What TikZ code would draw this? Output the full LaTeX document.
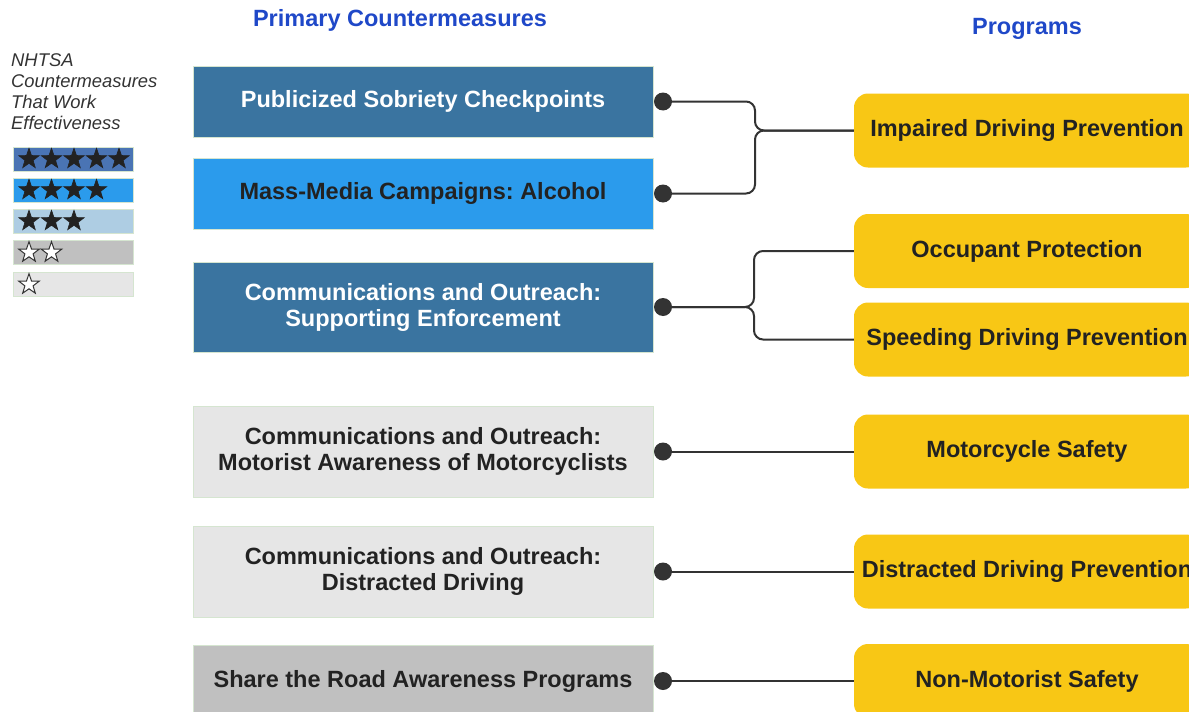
\documentclass[tikz,border=0pt]{standalone}
\usepackage{fontspec}
\setmainfont{Liberation Sans}
\frenchspacing
\usetikzlibrary{positioning,shapes.geometric}
\definecolor{steel}{HTML}{3A74A0}
\definecolor{skyblue}{HTML}{2B9BEC}
\definecolor{paleblue}{HTML}{AECDE3}
\definecolor{navyblue}{HTML}{4A74B4}
\definecolor{midgray}{HTML}{C0C0C0}
\definecolor{lightgray}{HTML}{E6E6E6}
\definecolor{gold}{HTML}{F8C715}
\definecolor{titleblue}{HTML}{1F48C8}
\definecolor{ink}{HTML}{222222}
\definecolor{wirecol}{HTML}{333333}
\definecolor{boxedge}{HTML}{D5E5D0}
\tikzset{
  measure/.style={draw=boxedge, line width=1pt, minimum width=460pt, inner sep=0pt,
    align=center, text=ink, font=\bfseries\fontsize{23.5}{26}\selectfont},
  program/.style={fill=gold, rounded corners=14pt, minimum width=346pt, minimum height=74pt,
    inner sep=0pt, text=ink, font=\bfseries\fontsize{23.5}{26}\selectfont},
  pin/.style={circle, fill=wirecol, minimum size=18pt, inner sep=0pt},
  wire/.style={draw=wirecol, line width=2pt, rounded corners=9pt},
  heading/.style={text=titleblue, font=\bfseries\fontsize{23.5}{26}\selectfont},
  ratebar/.style={draw=boxedge, line width=1pt, minimum width=120pt, minimum height=24pt, inner sep=0pt},
  fullstar/.style={star, star points=5, star point ratio=2.5, fill=ink, draw=ink,
    line width=0.6pt, minimum size=21.5pt, inner sep=0pt},
  openstar/.style={fullstar, fill=white, draw=wirecol, line width=1pt}
}
\begin{document}
\begin{tikzpicture}[x=1pt, y=-1pt]
  \clip (0,0) rectangle (1189,712);
  \useasboundingbox (0,0) rectangle (1189,712);

  \node[heading] (leftHead) at (400,20) {Primary Countermeasures};
  \node[heading] (rightHead) at (1027,29) {Programs};

  \node[anchor=north west, align=left, text=wirecol, inner sep=0pt,
    font=\itshape\fontsize{18.4}{21}\selectfont] (legendText) at (11,53)
    {NHTSA\\Countermeasures\\That Work\\Effectiveness};
  \foreach \n/\col/\y in {5/navyblue/159, 4/skyblue/190, 3/paleblue/221} {
    \node[ratebar, fill=\col] (bar\n) at (73,\y) {};
    \foreach \s in {1,...,\n}
      \node[fullstar] at (6.5+22.5*\s,\y) {};
  }
  \foreach \n/\col/\y in {2/midgray/252.5, 1/lightgray/284.5} {
    \node[ratebar, fill=\col] (bar\n) at (73,\y) {};
    \foreach \s in {1,...,\n}
      \node[openstar] at (6.5+22.5*\s,\y) {};
  }

  \node[measure, fill=steel, text=white, minimum height=71pt] (sobriety) at (423,101.5) {Publicized Sobriety Checkpoints};
  \node[measure, fill=skyblue, minimum height=71pt] (media) at (423,193.5) {Mass-Media Campaigns: Alcohol};
  \node[measure, fill=steel, text=white, minimum height=90pt] (enforce) at (423,307) {Communications and Outreach:\\Supporting Enforcement};
  \node[measure, fill=lightgray, minimum height=91pt] (aware) at (423,451.5) {Communications and Outreach:\\Motorist Awareness of Motorcyclists};
  \node[measure, fill=lightgray, minimum height=91pt] (distract) at (423,571.5) {Communications and Outreach:\\Distracted Driving};
  \node[measure, fill=midgray, minimum height=72pt] (share) at (423,681) {Share the Road Awareness Programs};

  \node[pin] (pinSobriety) at (663,101.5) {};
  \node[pin] (pinMedia) at (663,193.5) {};
  \node[pin] (pinEnforce) at (663,307) {};
  \node[pin] (pinAware) at (663,451.5) {};
  \node[pin] (pinDistract) at (663,571.5) {};
  \node[pin] (pinShare) at (663,681) {};

  \node[program] (impaired) at (1027,130.5) {Impaired Driving Prevention};
  \node[program] (occupant) at (1027,251) {Occupant Protection};
  \node[program] (speeding) at (1027,339.5) {Speeding Driving Prevention};
  \node[program] (motorcycle) at (1027,451.5) {Motorcycle Safety};
  \node[program] (distracted) at (1027,571.5) {Distracted Driving Prevention};
  \node[program] (nonmotor) at (1027,681) {Non-Motorist Safety};

  \coordinate (forkImpaired) at (755,130.5);
  \coordinate (forkEnforce) at (754,307);
  \draw[wire] (pinSobriety) -- (forkImpaired |- pinSobriety) -- (forkImpaired) -- (impaired);
  \draw[wire] (pinMedia) -- (forkImpaired |- pinMedia) -- (forkImpaired) -- (impaired);
  \draw[wire] (pinEnforce) -- (forkEnforce) -- (forkEnforce |- occupant) -- (occupant);
  \draw[wire] (pinEnforce) -- (forkEnforce) -- (forkEnforce |- speeding) -- (speeding);
  \draw[wire] (pinAware) -- (motorcycle);
  \draw[wire] (pinDistract) -- (distracted);
  \draw[wire] (pinShare) -- (nonmotor);
\end{tikzpicture}
\end{document}
